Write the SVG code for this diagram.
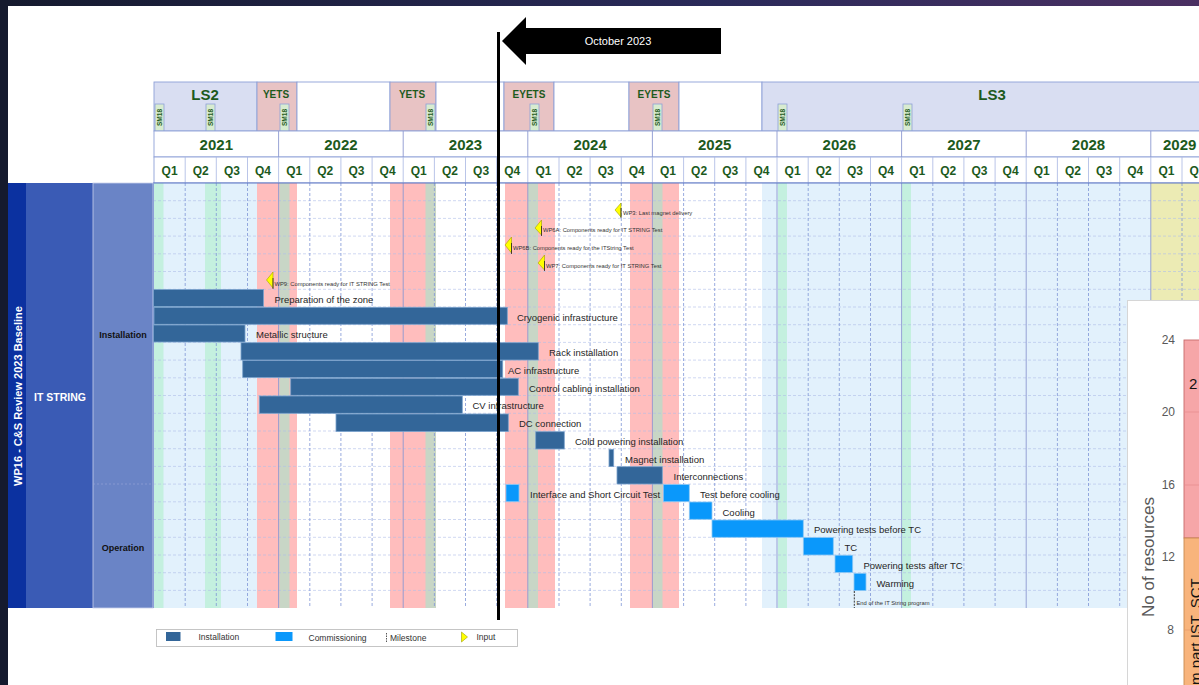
<svg xmlns="http://www.w3.org/2000/svg" width="1199" height="685" viewBox="0 0 1199 685">
<defs>
<linearGradient id="topg" x1="0" y1="0" x2="1" y2="0"><stop offset="0" stop-color="#151a2e"/><stop offset="0.6" stop-color="#2a2a5a"/><stop offset="1" stop-color="#4b3062"/></linearGradient>
<style>
.hd{font-family:"Liberation Sans",Arial,sans-serif;font-weight:bold;fill:#1d5a1d;text-anchor:middle}
.q{font-size:12px}
.yr{font-size:15px}
.sm{font-family:"Liberation Sans",Arial,sans-serif;font-weight:bold;font-size:6.5px;fill:#1d5a1d;text-anchor:middle}
.smb{fill:#d8ecd0;stroke:#8ea0d8;stroke-width:0.8}
.lbl{font-family:"Liberation Sans",Arial,sans-serif;font-size:9.5px;fill:#262626;dominant-baseline:central}
.ms{font-family:"Liberation Sans",Arial,sans-serif;font-size:5.8px;fill:#333;dominant-baseline:central}
.inst{fill:#336699;stroke:#7aa2cc;stroke-width:0.8}
.comm{fill:#0a98fb;stroke:#8cc8f5;stroke-width:0.8}
.qd{stroke:#7f96d6;stroke-width:0.8;stroke-dasharray:3,2}
.ys{stroke:#8c98d0;stroke-width:0.9}
.hr{stroke:#aebde8;stroke-width:0.6;stroke-dasharray:3,2}
.cell{stroke:#8ea0d8;stroke-width:0.9}
.tri{fill:#ffff00;stroke:#a0a000;stroke-width:0.6}
.ax{font-family:"Liberation Sans",Arial,sans-serif;font-size:12px;fill:#595959;text-anchor:end;dominant-baseline:central}
.lg{font-family:"Liberation Sans",Arial,sans-serif;font-size:8.5px;fill:#333;dominant-baseline:central}
</style>
</defs>

<!-- background -->
<rect x="0" y="0" width="1199" height="685" fill="#ffffff"/>
<rect x="0" y="0" width="1199" height="6" fill="url(#topg)"/>
<rect x="0" y="0" width="8" height="685" fill="#151a2e"/>

<!-- header row 1 -->
<g id="header-periods">
<rect x="154" y="82" width="103" height="49" fill="#d9def2" class="cell"/>
<rect x="257" y="82" width="40" height="49" fill="#e8c3c4" class="cell"/>
<rect x="297" y="82" width="93" height="49" fill="#ffffff" class="cell"/>
<rect x="390" y="82" width="46" height="49" fill="#e8c3c4" class="cell"/>
<rect x="436" y="82" width="68" height="49" fill="#ffffff" class="cell"/>
<rect x="504" y="82" width="50" height="49" fill="#e8c3c4" class="cell"/>
<rect x="554" y="82" width="75" height="49" fill="#ffffff" class="cell"/>
<rect x="629" y="82" width="50" height="49" fill="#e8c3c4" class="cell"/>
<rect x="679" y="82" width="83" height="49" fill="#ffffff" class="cell"/>
<rect x="762" y="82" width="440" height="49" fill="#d9def2" class="cell"/>
<text class="hd" x="205" y="100" font-size="15">LS2</text>
<text class="hd" x="276" y="98" font-size="10">YETS</text>
<text class="hd" x="412" y="98" font-size="10">YETS</text>
<text class="hd" x="529" y="98" font-size="10">EYETS</text>
<text class="hd" x="654" y="98" font-size="10">EYETS</text>
<text class="hd" x="992" y="100" font-size="15">LS3</text>
</g>
<g id="header-sm18">
<rect class="smb" x="155" y="104" width="9" height="27"/><text class="sm" transform="translate(161.8,117.5) rotate(-90)">SM18</text>
<rect class="smb" x="206" y="104" width="9" height="27"/><text class="sm" transform="translate(212.8,117.5) rotate(-90)">SM18</text>
<rect class="smb" x="280" y="104" width="9" height="27"/><text class="sm" transform="translate(286.8,117.5) rotate(-90)">SM18</text>
<rect class="smb" x="426" y="104" width="9" height="27"/><text class="sm" transform="translate(432.8,117.5) rotate(-90)">SM18</text>
<rect class="smb" x="530" y="104" width="9" height="27"/><text class="sm" transform="translate(536.8,117.5) rotate(-90)">SM18</text>
<rect class="smb" x="653" y="104" width="9" height="27"/><text class="sm" transform="translate(659.8,117.5) rotate(-90)">SM18</text>
<rect class="smb" x="778" y="104" width="9" height="27"/><text class="sm" transform="translate(784.8,117.5) rotate(-90)">SM18</text>
<rect class="smb" x="903" y="104" width="9" height="27"/><text class="sm" transform="translate(909.8,117.5) rotate(-90)">SM18</text>
</g>

<!-- header years and quarters -->
<g id="header-years">
<rect x="154" y="131" width="1050" height="26" fill="#ffffff" class="cell"/>
<rect x="154" y="157" width="1050" height="26" fill="#ffffff" class="cell"/>
<g class="ys">
<line x1="278.6" y1="131" x2="278.6" y2="157"/><line x1="403.2" y1="131" x2="403.2" y2="157"/><line x1="527.8" y1="131" x2="527.8" y2="157"/><line x1="652.4" y1="131" x2="652.4" y2="157"/><line x1="777" y1="131" x2="777" y2="157"/><line x1="901.6" y1="131" x2="901.6" y2="157"/><line x1="1026.2" y1="131" x2="1026.2" y2="157"/><line x1="1150.8" y1="131" x2="1150.8" y2="157"/>
</g>
<g stroke="#a8b6e2" stroke-width="0.8">
<line x1="185.2" y1="157" x2="185.2" y2="183"/><line x1="216.3" y1="157" x2="216.3" y2="183"/><line x1="247.5" y1="157" x2="247.5" y2="183"/><line x1="278.6" y1="157" x2="278.6" y2="183"/><line x1="309.8" y1="157" x2="309.8" y2="183"/><line x1="340.9" y1="157" x2="340.9" y2="183"/><line x1="372.1" y1="157" x2="372.1" y2="183"/><line x1="403.2" y1="157" x2="403.2" y2="183"/><line x1="434.4" y1="157" x2="434.4" y2="183"/><line x1="465.5" y1="157" x2="465.5" y2="183"/><line x1="496.7" y1="157" x2="496.7" y2="183"/><line x1="527.8" y1="157" x2="527.8" y2="183"/><line x1="559" y1="157" x2="559" y2="183"/><line x1="590.1" y1="157" x2="590.1" y2="183"/><line x1="621.3" y1="157" x2="621.3" y2="183"/><line x1="652.4" y1="157" x2="652.4" y2="183"/><line x1="683.6" y1="157" x2="683.6" y2="183"/><line x1="714.7" y1="157" x2="714.7" y2="183"/><line x1="745.9" y1="157" x2="745.9" y2="183"/><line x1="777" y1="157" x2="777" y2="183"/><line x1="808.2" y1="157" x2="808.2" y2="183"/><line x1="839.3" y1="157" x2="839.3" y2="183"/><line x1="870.5" y1="157" x2="870.5" y2="183"/><line x1="901.6" y1="157" x2="901.6" y2="183"/><line x1="932.8" y1="157" x2="932.8" y2="183"/><line x1="963.9" y1="157" x2="963.9" y2="183"/><line x1="995.1" y1="157" x2="995.1" y2="183"/><line x1="1026.2" y1="157" x2="1026.2" y2="183"/><line x1="1057.4" y1="157" x2="1057.4" y2="183"/><line x1="1088.5" y1="157" x2="1088.5" y2="183"/><line x1="1119.7" y1="157" x2="1119.7" y2="183"/><line x1="1150.8" y1="157" x2="1150.8" y2="183"/><line x1="1182" y1="157" x2="1182" y2="183"/>
</g>
<text class="hd yr" x="216.3" y="150">2021</text>
<text class="hd yr" x="340.9" y="150">2022</text>
<text class="hd yr" x="465.5" y="150">2023</text>
<text class="hd yr" x="590.1" y="150">2024</text>
<text class="hd yr" x="714.7" y="150">2025</text>
<text class="hd yr" x="839.3" y="150">2026</text>
<text class="hd yr" x="963.9" y="150">2027</text>
<text class="hd yr" x="1088.5" y="150">2028</text>
<text class="hd yr" x="1163" y="150" style="text-anchor:start">2029</text>
<g class="hd q">
<text x="169.6" y="175">Q1</text><text x="200.7" y="175">Q2</text><text x="231.9" y="175">Q3</text><text x="263" y="175">Q4</text>
<text x="294.2" y="175">Q1</text><text x="325.3" y="175">Q2</text><text x="356.5" y="175">Q3</text><text x="387.6" y="175">Q4</text>
<text x="418.8" y="175">Q1</text><text x="449.9" y="175">Q2</text><text x="481.1" y="175">Q3</text><text x="512.2" y="175">Q4</text>
<text x="543.4" y="175">Q1</text><text x="574.5" y="175">Q2</text><text x="605.7" y="175">Q3</text><text x="636.8" y="175">Q4</text>
<text x="668" y="175">Q1</text><text x="699.1" y="175">Q2</text><text x="730.3" y="175">Q3</text><text x="761.4" y="175">Q4</text>
<text x="792.6" y="175">Q1</text><text x="823.7" y="175">Q2</text><text x="854.9" y="175">Q3</text><text x="886" y="175">Q4</text>
<text x="917.2" y="175">Q1</text><text x="948.3" y="175">Q2</text><text x="979.5" y="175">Q3</text><text x="1010.6" y="175">Q4</text>
<text x="1041.8" y="175">Q1</text><text x="1072.9" y="175">Q2</text><text x="1104.1" y="175">Q3</text><text x="1135.2" y="175">Q4</text>
<text x="1166.4" y="175">Q1</text><text x="1197.5" y="175">Q2</text>
</g>
</g>

<!-- left labels -->
<g id="left-wp">
<rect x="8" y="183" width="18" height="425" fill="#0b31a0"/>
<text transform="translate(22,396) rotate(-90)" font-family="Liberation Sans, Arial, sans-serif" font-weight="bold" font-size="11" fill="#ffffff" text-anchor="middle">WP16 - C&amp;S Review 2023 Baseline</text>
</g>
<g id="left-itstring">
<rect x="26" y="183" width="67" height="425" fill="#3a5bb5"/>
<text x="60" y="401" font-family="Liberation Sans, Arial, sans-serif" font-weight="bold" font-size="10.5" fill="#ffffff" text-anchor="middle">IT STRING</text>
</g>
<g id="left-phase">
<rect x="93" y="183" width="60" height="425" fill="#6a84c6" stroke="#c8d0ec" stroke-width="0.8"/>
<line x1="93" y1="484" x2="153" y2="484" stroke="#9aaad8" stroke-width="0.6" stroke-dasharray="2,2"/>
<text x="123" y="338" font-family="Liberation Sans, Arial, sans-serif" font-weight="bold" font-size="9" fill="#111" text-anchor="middle">Installation</text>
<text x="123" y="551" font-family="Liberation Sans, Arial, sans-serif" font-weight="bold" font-size="9" fill="#111" text-anchor="middle">Operation</text>
</g>

<!-- chart background -->
<g id="chart-bg">
<rect x="153" y="183" width="1050" height="425" fill="#ffffff"/>
<rect x="154" y="183" width="103" height="425" fill="#e2f1fc"/>
<rect x="762" y="183" width="388.8" height="425" fill="#e2f1fc"/>
<rect x="1150.8" y="183" width="50" height="425" fill="#ecebb4"/>
<rect x="154" y="183" width="9.5" height="425" fill="#c4f0df"/>
<rect x="205" y="183" width="16" height="425" fill="#c4f0df"/>
<rect x="778" y="183" width="9" height="425" fill="#c4f0df"/>
<rect x="902" y="183" width="9" height="425" fill="#c4f0df"/>
<rect x="257" y="183" width="40" height="425" fill="#ffbdbd"/>
<rect x="390" y="183" width="46" height="425" fill="#ffbdbd"/>
<rect x="505" y="183" width="50" height="425" fill="#ffbdbd"/>
<rect x="630" y="183" width="49" height="425" fill="#ffbdbd"/>
<rect x="279.5" y="183" width="10" height="425" fill="#c8d6c6"/>
<rect x="425.5" y="183" width="10.5" height="425" fill="#c8d6c6"/>
<rect x="528" y="183" width="10" height="425" fill="#c8d6c6"/>
<rect x="653" y="183" width="9.5" height="425" fill="#c8d6c6"/>
</g>

<!-- grid -->
<g id="grid">
<g class="hr">
<line x1="153" y1="200.7" x2="1199" y2="200.7"/><line x1="153" y1="218.4" x2="1199" y2="218.4"/><line x1="153" y1="236.1" x2="1199" y2="236.1"/><line x1="153" y1="253.8" x2="1199" y2="253.8"/><line x1="153" y1="271.5" x2="1199" y2="271.5"/><line x1="153" y1="289.3" x2="1199" y2="289.3"/><line x1="153" y1="307" x2="1199" y2="307"/><line x1="153" y1="324.7" x2="1199" y2="324.7"/><line x1="153" y1="342.4" x2="1199" y2="342.4"/><line x1="153" y1="360.1" x2="1199" y2="360.1"/><line x1="153" y1="377.8" x2="1199" y2="377.8"/><line x1="153" y1="395.5" x2="1199" y2="395.5"/><line x1="153" y1="413.3" x2="1199" y2="413.3"/><line x1="153" y1="431" x2="1199" y2="431"/><line x1="153" y1="448.7" x2="1199" y2="448.7"/><line x1="153" y1="466.4" x2="1199" y2="466.4"/><line x1="153" y1="484.1" x2="1199" y2="484.1"/><line x1="153" y1="501.8" x2="1199" y2="501.8"/><line x1="153" y1="519.5" x2="1199" y2="519.5"/><line x1="153" y1="537.3" x2="1199" y2="537.3"/><line x1="153" y1="555" x2="1199" y2="555"/><line x1="153" y1="572.7" x2="1199" y2="572.7"/><line x1="153" y1="590.4" x2="1199" y2="590.4"/>
</g>
<g class="qd">
<line x1="185.2" y1="183" x2="185.2" y2="608"/><line x1="216.3" y1="183" x2="216.3" y2="608"/><line x1="247.5" y1="183" x2="247.5" y2="608"/><line x1="309.8" y1="183" x2="309.8" y2="608"/><line x1="340.9" y1="183" x2="340.9" y2="608"/><line x1="372.1" y1="183" x2="372.1" y2="608"/><line x1="434.4" y1="183" x2="434.4" y2="608"/><line x1="465.5" y1="183" x2="465.5" y2="608"/><line x1="496.7" y1="183" x2="496.7" y2="608"/><line x1="559" y1="183" x2="559" y2="608"/><line x1="590.1" y1="183" x2="590.1" y2="608"/><line x1="621.3" y1="183" x2="621.3" y2="608"/><line x1="683.6" y1="183" x2="683.6" y2="608"/><line x1="714.7" y1="183" x2="714.7" y2="608"/><line x1="745.9" y1="183" x2="745.9" y2="608"/><line x1="808.2" y1="183" x2="808.2" y2="608"/><line x1="839.3" y1="183" x2="839.3" y2="608"/><line x1="870.5" y1="183" x2="870.5" y2="608"/><line x1="932.8" y1="183" x2="932.8" y2="608"/><line x1="963.9" y1="183" x2="963.9" y2="608"/><line x1="995.1" y1="183" x2="995.1" y2="608"/><line x1="1057.4" y1="183" x2="1057.4" y2="608"/><line x1="1088.5" y1="183" x2="1088.5" y2="608"/><line x1="1119.7" y1="183" x2="1119.7" y2="608"/><line x1="1182" y1="183" x2="1182" y2="608"/>
</g>
<g class="ys">
<line x1="278.6" y1="183" x2="278.6" y2="608"/><line x1="403.2" y1="183" x2="403.2" y2="608"/><line x1="527.8" y1="183" x2="527.8" y2="608"/><line x1="652.4" y1="183" x2="652.4" y2="608"/><line x1="777" y1="183" x2="777" y2="608"/><line x1="901.6" y1="183" x2="901.6" y2="608"/><line x1="1026.2" y1="183" x2="1026.2" y2="608"/><line x1="1150.8" y1="183" x2="1150.8" y2="608"/>
</g>
<line x1="153" y1="183" x2="1199" y2="183" stroke="#5a74c4" stroke-width="1.2"/>
<line x1="153.5" y1="183" x2="153.5" y2="608" stroke="#8ea0d8" stroke-width="1"/>
</g>

<!-- milestones / inputs -->
<g id="inputs">
<polygon class="tri" points="615,210 621,203 621,217"/><line x1="621" y1="208" x2="621" y2="218" stroke="#222" stroke-width="0.8"/>
<text class="ms" x="623" y="212.5">WP3: Last magnet delivery</text>
<polygon class="tri" points="535,228 541.5,220 541.5,235"/><line x1="541.5" y1="226" x2="541.5" y2="236" stroke="#222" stroke-width="0.8"/>
<text class="ms" x="543" y="230">WP6A: Components ready for IT STRING Test</text>
<polygon class="tri" points="505,245 511.5,237 511.5,253"/><line x1="511.5" y1="243" x2="511.5" y2="254" stroke="#222" stroke-width="0.8"/>
<text class="ms" x="513" y="247.5">WP6B: Components ready for the ITString Test</text>
<polygon class="tri" points="538,263 544.5,255 544.5,270"/><line x1="544.5" y1="261" x2="544.5" y2="271" stroke="#222" stroke-width="0.8"/>
<text class="ms" x="546" y="265.5">WP7: Components ready for IT STRING Test</text>
<polygon class="tri" points="266.5,280 273,272 273,288"/><line x1="273" y1="278" x2="273" y2="289" stroke="#222" stroke-width="0.8"/>
<text class="ms" x="274.5" y="284">WP9: Components ready for IT STRING Test</text>
</g>

<!-- bars -->
<g id="installation-bars">
<rect class="inst" x="153.5" y="289.5" width="110" height="17"/>
<rect class="inst" x="154" y="307.3" width="353.3" height="17"/>
<rect class="inst" x="153.5" y="325" width="91.5" height="17"/>
<rect class="inst" x="241" y="342.7" width="297.3" height="17.3"/>
<rect class="inst" x="242.7" y="360.5" width="260" height="17"/>
<rect class="inst" x="290.7" y="378.3" width="227.6" height="17"/>
<rect class="inst" x="259.3" y="396" width="203" height="17.3"/>
<rect class="inst" x="336" y="414" width="172.3" height="17.5"/>
<rect class="inst" x="535.7" y="431.7" width="28.6" height="17.3"/>
<rect class="inst" x="609" y="449.3" width="4.7" height="17.3"/>
<rect class="inst" x="617" y="466.7" width="45.3" height="17.3"/>
</g>
<g id="commissioning-bars">
<rect class="comm" x="506" y="484.5" width="13" height="17.2"/>
<rect class="comm" x="663.3" y="484.5" width="26" height="17.2"/>
<rect class="comm" x="689.3" y="502" width="22.7" height="17.3"/>
<rect class="comm" x="712" y="520" width="91.3" height="17.3"/>
<rect class="comm" x="803.3" y="537.5" width="30" height="17.5"/>
<rect class="comm" x="835" y="555.2" width="17.7" height="17.3"/>
<rect class="comm" x="854" y="573.3" width="12" height="17.3"/>
</g>
<g id="end-milestone">
<line x1="854.3" y1="591" x2="854.3" y2="608" stroke="#222" stroke-width="0.9" stroke-dasharray="2,1.2"/>
<text class="ms" x="856.5" y="603">End of the IT String program</text>
</g>

<!-- bar labels -->
<g id="bar-labels">
<text class="lbl" x="274.5" y="299">Preparation of the zone</text>
<text class="lbl" x="517" y="317">Cryogenic infrastructure</text>
<text class="lbl" x="256" y="334.5">Metallic structure</text>
<text class="lbl" x="549" y="352.5">Rack installation</text>
<text class="lbl" x="508" y="370">AC infrastructure</text>
<text class="lbl" x="529" y="388">Control cabling installation</text>
<text class="lbl" x="472.5" y="405.5">CV infrastructure</text>
<text class="lbl" x="519" y="423">DC connection</text>
<text class="lbl" x="575" y="441">Cold powering installation</text>
<text class="lbl" x="625" y="459">Magnet installation</text>
<text class="lbl" x="673.5" y="476.7">Interconnections</text>
<text class="lbl" x="530" y="494.3">Interface and Short Circuit Test</text>
<text class="lbl" x="700" y="494.3">Test before cooling</text>
<text class="lbl" x="722.5" y="512">Cooling</text>
<text class="lbl" x="814" y="529.7">Powering tests before TC</text>
<text class="lbl" x="844.5" y="547.7">TC</text>
<text class="lbl" x="863.5" y="565.5">Powering tests after TC</text>
<text class="lbl" x="876.5" y="583.3">Warming</text>
</g>

<!-- legend -->
<g id="legend">
<rect x="156.5" y="629.5" width="361" height="17" fill="#ffffff" stroke="#bfbfbf" stroke-width="0.9"/>
<rect x="166" y="632" width="14.5" height="9" fill="#336699"/>
<text class="lg" x="198.5" y="637">Installation</text>
<rect x="275.5" y="632" width="17" height="9" fill="#0a98fb"/>
<text class="lg" x="308.5" y="637.5">Commissioning</text>
<line x1="386.5" y1="633" x2="386.5" y2="642" stroke="#444" stroke-width="0.9" stroke-dasharray="1.5,1"/>
<text class="lg" x="390" y="637.5">Milestone</text>
<polygon points="461.5,632 467.5,637 461.5,642" fill="#ffff00" stroke="#a0a000" stroke-width="0.6"/>
<text class="lg" x="476.5" y="636.5">Input</text>
</g>

<!-- resource chart overlay -->
<g id="resource-chart">
<rect x="1127.5" y="300.5" width="80" height="390" fill="#ffffff" stroke="#d6d6d6" stroke-width="1"/>
<rect x="1184" y="340" width="20" height="198" fill="#f6a6a8" stroke="#c86a6a" stroke-width="0.9"/>
<rect x="1184" y="538" width="20" height="150" fill="#f8b47c" stroke="#c88a50" stroke-width="0.9"/>
<line x1="1184" y1="412" x2="1199" y2="412" stroke="#e58a8c" stroke-width="0.7"/>
<line x1="1184" y1="485" x2="1199" y2="485" stroke="#e58a8c" stroke-width="0.7"/>
<line x1="1184" y1="630" x2="1199" y2="630" stroke="#e59a6a" stroke-width="0.7"/>
<text class="ax" x="1175" y="340">24</text>
<text class="ax" x="1175" y="412">20</text>
<text class="ax" x="1175" y="485">16</text>
<text class="ax" x="1175" y="557">12</text>
<text class="ax" x="1174" y="630">8</text>
<text transform="translate(1154,557) rotate(-90)" font-family="Liberation Sans, Arial, sans-serif" font-size="17" fill="#595959" text-anchor="middle">No of resources</text>
<text x="1189" y="389" font-family="Liberation Sans, Arial, sans-serif" font-size="15" fill="#111">2</text>
<text transform="translate(1201,690) rotate(-90)" font-family="Liberation Sans, Arial, sans-serif" font-size="15" fill="#111">rm part IST, SCT</text>
</g>

<!-- today marker -->
<g id="today-marker">
<line x1="498.5" y1="32" x2="498.5" y2="620" stroke="#000" stroke-width="3"/>
<polygon points="502,41 526,17 526,28 721,28 721,54 526,54 526,65" fill="#000"/>
<text x="618" y="45" font-family="Liberation Sans, Arial, sans-serif" font-size="11" fill="#ffffff" text-anchor="middle">October 2023</text>
</g>
</svg>
